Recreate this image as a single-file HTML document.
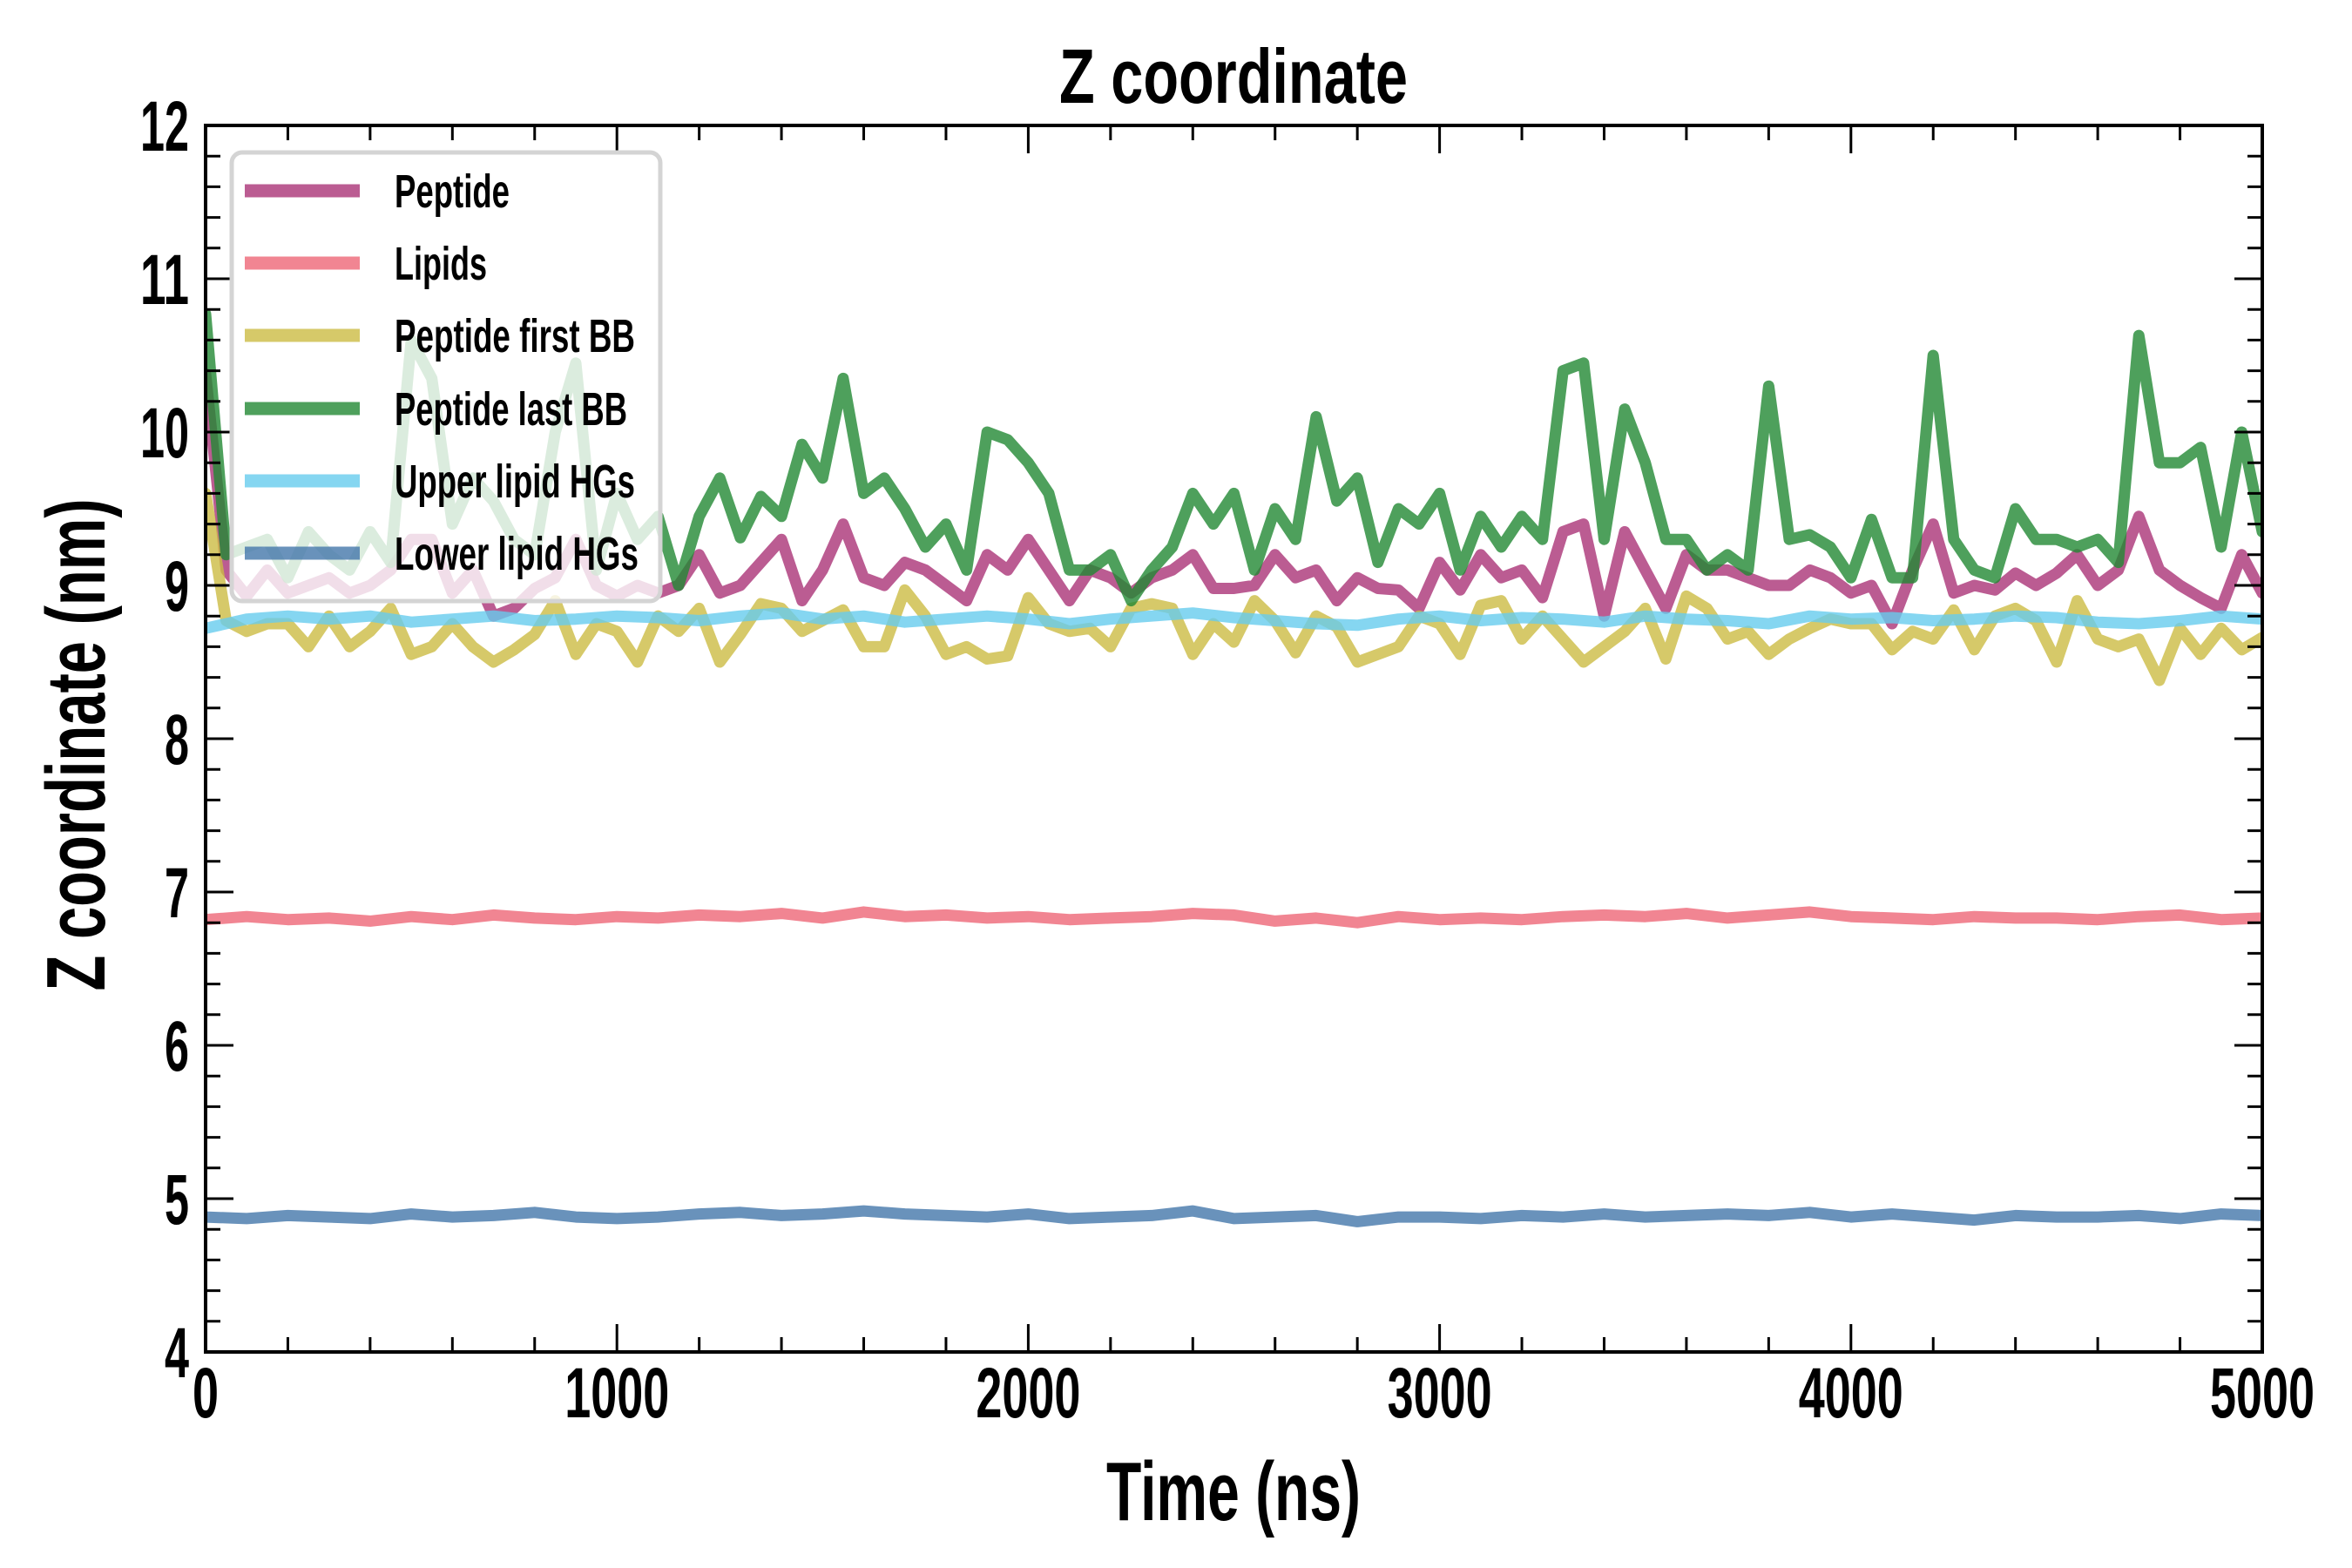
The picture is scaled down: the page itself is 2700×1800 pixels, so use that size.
<!DOCTYPE html>
<html><head><meta charset="utf-8"><style>
html,body{margin:0;padding:0;background:#fff;}
svg{display:block;}
text{font-family:"Liberation Sans Narrow","Liberation Sans",sans-serif;font-weight:bold;fill:#000;}
</style></head><body>
<svg id="chart" width="2700" height="1800" viewBox="0 0 2700 1800" xmlns="http://www.w3.org/2000/svg">
<defs><clipPath id="plotclip"><rect x="236" y="144" width="2361" height="1408"/></clipPath></defs>
<rect x="0" y="0" width="2700" height="1800" fill="#fff"/>
<g id="series" clip-path="url(#plotclip)"></g>
<g id="axes"></g>
<g id="legend"></g>
<text x="1416" y="118" font-size="88" text-anchor="middle" textLength="400" lengthAdjust="spacingAndGlyphs">Z coordinate</text>
<text x="1416" y="1745" font-size="96" text-anchor="middle" textLength="292" lengthAdjust="spacingAndGlyphs">Time (ns)</text>
<text transform="translate(120,855) rotate(-90)" x="0" y="0" font-size="96" text-anchor="middle" textLength="565" lengthAdjust="spacingAndGlyphs">Z coordinate (nm)</text>
</svg>
<script>
const timesMain = [];
for (let i = 0; i <= 100; i++) timesMain.push(i * 50);
const timesFlat = [];
for (let i = 0; i <= 50; i++) timesFlat.push(i * 100);

const peptide = [10.38,9.1,8.93,9.1,8.95,9.0,9.05,8.95,9.0,9.1,9.3,9.3,8.95,9.1,8.8,8.85,8.98,9.05,9.3,9.0,8.93,9.0,8.95,9.0,9.2,8.95,
9.0,9.15,9.3,8.9,9.1,9.4,9.05,9.0,9.15,9.1,9.0,8.9,9.2,9.1,9.3,9.1,8.9,9.1,9.05,8.95,9.05,9.1,9.2,8.98,8.98,
9.0,9.2,9.05,9.1,8.9,9.05,8.98,8.97,8.85,9.15,8.97,9.2,9.05,9.1,8.92,9.35,9.4,8.8,9.35,9.1,8.85,9.2,9.1,9.1,9.05,
9.0,9.0,9.1,9.05,8.95,9.0,8.75,9.1,9.4,8.95,9.0,8.97,9.08,9.0,9.08,9.2,9.0,9.1,9.45,9.1,9.0,8.92,8.85,9.2,8.95];

const firstBB = [9.6,8.77,8.7,8.75,8.75,8.6,8.8,8.6,8.7,8.85,8.55,8.6,8.75,8.6,8.5,8.58,8.68,8.9,8.55,8.75,8.7,8.5,8.8,8.7,8.85,8.5,
8.68,8.88,8.85,8.7,8.77,8.84,8.6,8.6,8.97,8.8,8.55,8.6,8.52,8.54,8.92,8.75,8.7,8.72,8.6,8.85,8.88,8.85,8.55,8.75,8.63,
8.9,8.77,8.56,8.8,8.73,8.5,8.55,8.6,8.8,8.75,8.55,8.87,8.9,8.65,8.8,8.65,8.5,8.6,8.7,8.85,8.52,8.93,8.85,8.65,8.7,
8.55,8.65,8.72,8.78,8.75,8.75,8.58,8.7,8.65,8.84,8.58,8.8,8.85,8.77,8.5,8.9,8.65,8.6,8.65,8.38,8.72,8.55,8.72,8.58,8.66];

const lastBB = [10.77,9.2,9.25,9.3,9.05,9.35,9.2,9.1,9.35,9.15,10.6,10.35,9.4,9.7,9.55,9.3,9.2,10.0,10.45,9.1,9.6,9.3,9.45,9.0,9.45,9.7,
9.31,9.58,9.45,9.92,9.7,10.35,9.6,9.7,9.5,9.25,9.4,9.1,10.0,9.95,9.8,9.6,9.1,9.1,9.2,8.9,9.1,9.25,9.6,9.4,9.6,
9.1,9.5,9.3,10.1,9.55,9.7,9.15,9.5,9.4,9.6,9.1,9.45,9.25,9.45,9.3,10.4,10.45,9.3,10.15,9.8,9.3,9.3,9.1,9.2,9.1,
10.3,9.3,9.33,9.25,9.05,9.43,9.05,9.05,10.5,9.3,9.1,9.05,9.5,9.3,9.3,9.25,9.3,9.15,10.63,9.8,9.8,9.9,9.25,10.0,9.35];

const lipids = [6.82,6.84,6.82,6.83,6.81,6.84,6.82,6.85,6.83,6.82,6.84,6.83,6.85,6.84,6.86,6.83,6.87,6.84,6.85,6.83,6.84,6.82,6.83,6.84,6.86,6.85,6.81,6.83,6.8,6.84,6.82,6.83,6.82,6.84,6.85,6.84,6.86,6.83,6.85,6.87,6.84,6.83,6.82,6.84,6.83,6.83,6.82,6.84,6.85,6.82,6.83];

const upperHG = [8.72,8.78,8.8,8.78,8.8,8.76,8.78,8.8,8.77,8.78,8.8,8.79,8.77,8.8,8.82,8.78,8.8,8.76,8.78,8.8,8.78,8.75,8.78,8.8,8.82,8.79,8.77,8.75,8.74,8.78,8.8,8.77,8.79,8.78,8.76,8.8,8.78,8.77,8.75,8.8,8.78,8.79,8.77,8.78,8.8,8.79,8.76,8.75,8.77,8.8,8.78];

const lowerHG = [4.88,4.87,4.89,4.88,4.87,4.9,4.88,4.89,4.91,4.88,4.87,4.88,4.9,4.91,4.89,4.9,4.92,4.9,4.89,4.88,4.9,4.87,4.88,4.89,4.92,4.87,4.88,4.89,4.85,4.88,4.88,4.87,4.89,4.88,4.9,4.88,4.89,4.9,4.89,4.91,4.88,4.9,4.88,4.86,4.89,4.88,4.88,4.89,4.87,4.9,4.89];

const xTickLabels = ["0","1000","2000","3000","4000","5000"];
const yTickLabels = ["4","5","6","7","8","9","10","11","12"];
const legendLabels = ["Peptide","Lipids","Peptide first BB","Peptide last BB","Upper lipid HGs","Lower lipid HGs"];

const NS = "http://www.w3.org/2000/svg";
const L = 236, R = 2597, T = 144, B = 1552;
const X0 = 0, X1 = 5000, Y0 = 4, Y1 = 12;
function xs(v){ return L + (v - X0) / (X1 - X0) * (R - L); }
function ys(v){ return B - (v - Y0) / (Y1 - Y0) * (B - T); }
function mk(tag, attrs){ const e = document.createElementNS(NS, tag); for (const k in attrs) e.setAttribute(k, attrs[k]); return e; }

const seriesDefs = [
  {key:"peptide", t:timesMain, v:peptide, c:"#AA3377"},
  {key:"lipids", t:timesFlat, v:lipids, c:"#EE6677"},
  {key:"peptide-first-bb", t:timesMain, v:firstBB, c:"#CCBB44"},
  {key:"peptide-last-bb", t:timesMain, v:lastBB, c:"#228833"},
  {key:"upper-lipid-hgs", t:timesFlat, v:upperHG, c:"#66CCEE"},
  {key:"lower-lipid-hgs", t:timesFlat, v:lowerHG, c:"#4477AA"}
];
const sg = document.getElementById("series");
seriesDefs.forEach(s => {
  let d = "";
  s.v.forEach((v, i) => { d += (i ? "L" : "M") + xs(s.t[i]).toFixed(1) + "," + ys(v).toFixed(1); });
  const p = mk("path", {d:d, fill:"none", stroke:s.c, "stroke-opacity":"0.8", "stroke-width":"13", "stroke-linejoin":"round", "stroke-linecap":"round"});
  
  
  sg.appendChild(p);
});

const ax = document.getElementById("axes");
const frame = mk("rect", {x:L, y:T, width:R-L, height:B-T, fill:"none", stroke:"#000", "stroke-width":"4"});


ax.appendChild(frame);
for (let v = 0; v <= 5000; v += 200) {
  const major = v % 1000 === 0; const len = major ? 32 : 17; const x = xs(v);
  const t1 = mk("line", {x1:x, y1:B, x2:x, y2:B-len, stroke:"#000", "stroke-width":"3"});
  
  
  ax.appendChild(t1);
  const t2 = mk("line", {x1:x, y1:T, x2:x, y2:T+len, stroke:"#000", "stroke-width":"3"});
  
  
  ax.appendChild(t2);
}
for (let k = 0; k <= 40; k++) {
  const v = 4 + k * 0.2; const major = k % 5 === 0; const len = major ? 32 : 17; const y = ys(v);
  const t1 = mk("line", {x1:L, y1:y, x2:L+len, y2:y, stroke:"#000", "stroke-width":"3"});
  
  
  ax.appendChild(t1);
  const t2 = mk("line", {x1:R, y1:y, x2:R-len, y2:y, stroke:"#000", "stroke-width":"3"});
  
  
  ax.appendChild(t2);
}
xTickLabels.forEach(lbl => {
  const tx = mk("text", {x:xs(parseFloat(lbl)), y:1627, "font-size":"82", "text-anchor":"middle", textLength:String(lbl.length*30), lengthAdjust:"spacingAndGlyphs"});
  tx.textContent = lbl;
  
  
  ax.appendChild(tx);
});
yTickLabels.forEach(lbl => {
  const tx = mk("text", {x:217, y:ys(parseFloat(lbl))+29, "font-size":"82", "text-anchor":"end", textLength:String(lbl.length*28), lengthAdjust:"spacingAndGlyphs"});
  tx.textContent = lbl;
  
  
  ax.appendChild(tx);
});

const lg = document.getElementById("legend");
const box = mk("rect", {x:266, y:175, width:492, height:515, rx:12, ry:12, fill:"#fff", "fill-opacity":"0.8", stroke:"#d4d4d4", "stroke-width":"5"});


lg.appendChild(box);
const legendY = [219, 302, 385, 469, 552, 635];
const legendW = [132, 106, 276, 267, 276, 280];
legendLabels.forEach((lbl, i) => {
  const y = legendY[i];
  const ln = mk("line", {x1:281, y1:y, x2:413, y2:y, stroke:seriesDefs[i].c, "stroke-opacity":"0.8", "stroke-width":"15"});
  
  
  lg.appendChild(ln);
  const tx = mk("text", {x:453, y:y+19, "font-size":"54", textLength:String(legendW[i]), lengthAdjust:"spacingAndGlyphs"});
  tx.textContent = lbl;
  
  
  lg.appendChild(tx);
});
</script>
</body></html>
